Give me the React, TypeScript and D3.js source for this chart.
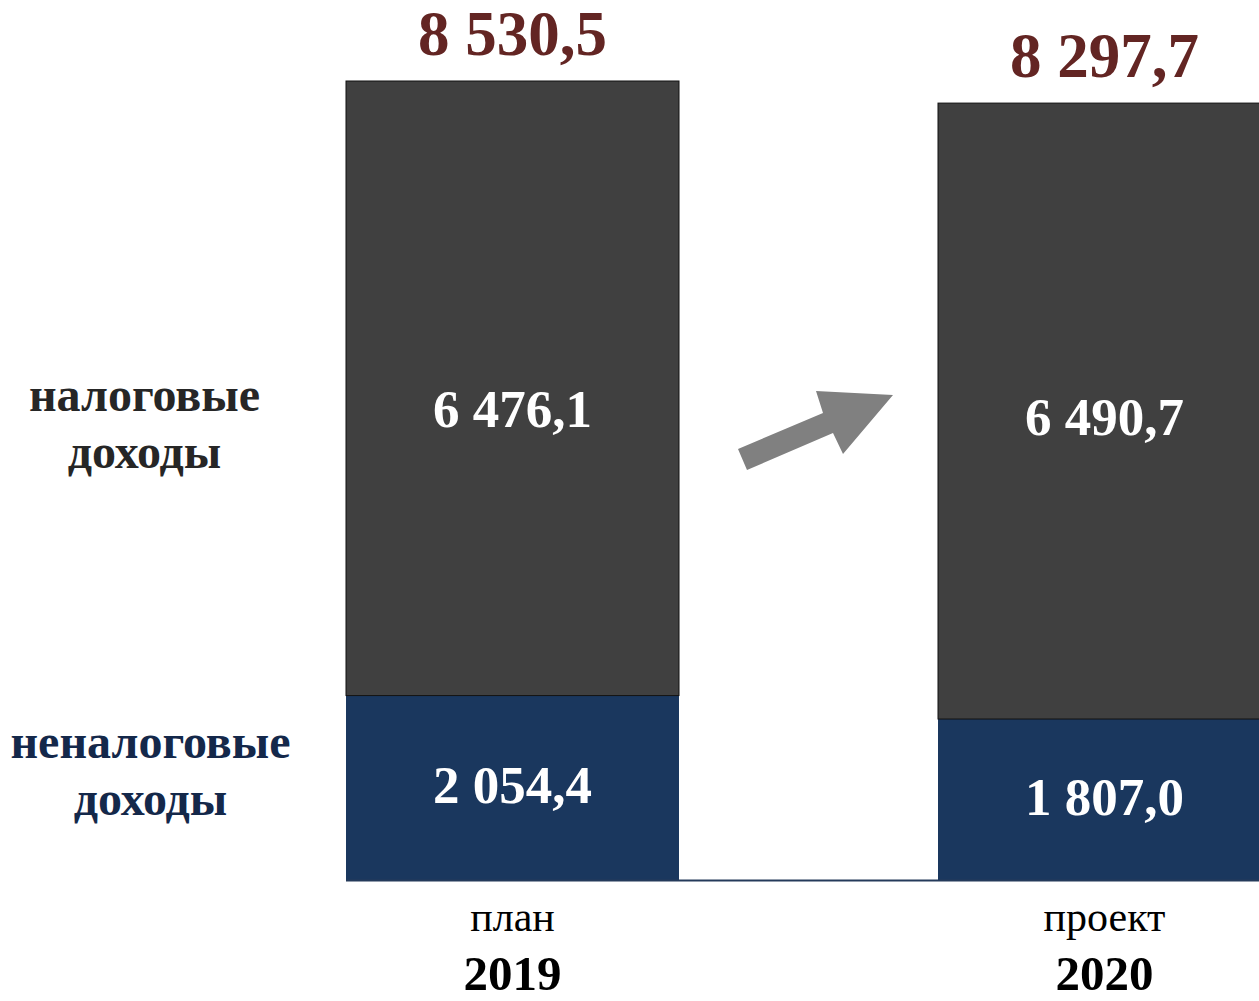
import React from "react";
import * as d3 from "d3";

const categories = ["2019", "2020"];
const subLabels = ["план", "проект"];
const taxValues = [6476.1, 6490.7];
const nonTaxValues = [2054.4, 1807.0];
const totals = [8530.5, 8297.7];
const seriesNames = [["налоговые", "доходы"], ["неналоговые", "доходы"]];

// layout nudges for in-bar labels (pixels)
const darkLabelNudge = [39, 24];

const fmt = (v: number) => {
  const s = v.toFixed(1).replace(".", ",");
  const [i, f] = s.split(",");
  return i.replace(/\B(?=(\d{3})+(?!\d))/g, " ") + "," + f;
};

export default function App() {
  const W = 1259, H = 1001;
  const xs = d3.scaleOrdinal<string, number>().domain(categories).range([346, 938]);
  const bw = 333;
  const y = d3.scaleLinear().domain([0, 8530.5]).range([890.5, 81]);
  const axisY = 880;
  const font = "'Liberation Serif', 'Times New Roman', serif";
  const arrow: [number, number][] = [[738, 449], [823, 413], [816, 391], [893, 395], [843, 454], [833, 433], [747, 470]];
  const line = d3.line();
  return (
    <svg width={W} height={H} style={{ position: "absolute", left: 0, top: 0, background: "#fff" }} fontFamily={font}>
      <defs>
        <clipPath id="plot"><rect x={0} y={0} width={W} height={axisY} /></clipPath>
      </defs>
      <g clipPath="url(#plot)">
        {categories.map((c, i) => {
          const x0 = xs(c);
          const yb = y(nonTaxValues[i]);
          const yt = y(nonTaxValues[i] + taxValues[i]);
          return (
            <g key={c}>
              <rect x={x0} y={yb} width={bw} height={y(0) - yb} fill="#1a375e" />
              <rect x={x0} y={yt} width={bw} height={yb - yt} fill="#404040" stroke="#111" strokeWidth={1} />
            </g>
          );
        })}
      </g>
      <line x1={346} x2={W} y1={axisY + 0.5} y2={axisY + 0.5} stroke="#243a5a" strokeWidth={2} />
      {categories.map((c, i) => {
        const cx = xs(c) + bw / 2;
        const yb = y(nonTaxValues[i]);
        const yt = y(nonTaxValues[i] + taxValues[i]);
        return (
          <g key={"t" + c} textAnchor="middle" fontWeight="bold">
            <text x={cx} y={yt - 26} fontSize={63} fill="#632523">{fmt(totals[i])}</text>
            <text x={cx} y={(yt + yb) / 2 + darkLabelNudge[i]} fontSize={53} fill="#fff">{fmt(taxValues[i])}</text>
            <text x={cx} y={(yb + axisY) / 2 + 15} fontSize={53} fill="#fff">{fmt(nonTaxValues[i])}</text>
            <text x={cx} y={931} fontSize={42} fontWeight="normal" fill="#000">{subLabels[i]}</text>
            <text x={cx} y={990} fontSize={49} fill="#000">{c}</text>
          </g>
        );
      })}
      <path d={line(arrow) + "Z"} fill="#808080" />
      <g textAnchor="middle" fontWeight="bold" fontSize={48}>
        <text x={144.5} y={411} fill="#262626">{seriesNames[0][0]}</text>
        <text x={144.5} y={468} fill="#262626">{seriesNames[0][1]}</text>
        <text x={150.5} y={758} fill="#14284a">{seriesNames[1][0]}</text>
        <text x={150.5} y={815} fill="#14284a">{seriesNames[1][1]}</text>
      </g>
    </svg>
  );
}
